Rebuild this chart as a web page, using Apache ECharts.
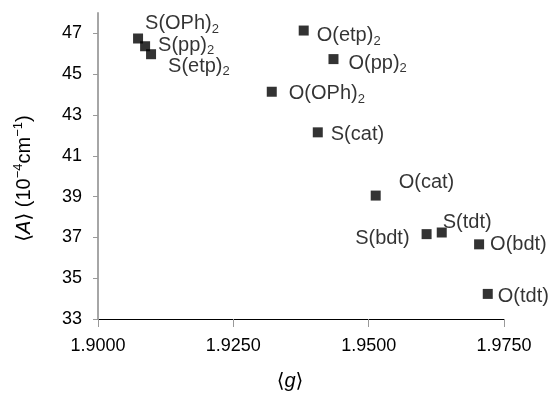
<!DOCTYPE html>
<html>
<head>
<meta charset="utf-8">
<script src="https://cdn.jsdelivr.net/npm/echarts@6/dist/echarts.min.js"></script>
<style>
  html, body { margin: 0; padding: 0; background: #fff; }
  #chart { width: 553px; height: 396px; }
</style>
</head>
<body>
<div id="chart"></div>
<script>
// complexes: name split as main text + subscript
var names = ['S(OPh)', 'S(pp)', 'S(etp)', 'O(etp)', 'O(pp)', 'O(OPh)', 'S(cat)', 'O(cat)', 'S(bdt)', 'S(tdt)', 'O(bdt)', 'O(tdt)']
var subs = ['2', '2', '2', '2', '2', '2', '', '', '', '', '', '']
var gValues = [1.9074, 1.9087, 1.9098, 1.9380, 1.9435, 1.9321, 1.9406, 1.9513, 1.9607, 1.9635, 1.9704, 1.9720]
var aValues = [46.75, 46.37, 45.98, 47.14, 45.74, 44.14, 42.15, 39.05, 37.16, 37.24, 36.66, 34.23]
var yTicks = [33, 35, 37, 39, 41, 43, 45, 47]

// label placement per point: [position, offsetX, offsetY]
var labelPlace = [
  ['right', -6, -15],
  ['right', 0, -1],
  ['right', 4, 12],
  ['right', 0, 5],
  ['right', 2, 4],
  ['right', 4, 2],
  ['right', 0, 2],
  ['right', 10, -13],
  ['left', -4, 4],
  ['right', -12, -10],
  ['right', -2, 0],
  ['right', -3, 3]
]

var font = 'Liberation Sans, Arial, DejaVu Sans, sans-serif'

var data = names.map(function (n, i) {
  var p = labelPlace[i]
  return {
    value: [gValues[i], aValues[i]],
    label: {
      position: p[0],
      offset: [p[1], p[2]],
      formatter: subs[i] ? '{n|' + n + '}{s|' + subs[i] + '}' : '{n|' + n + '}'
    }
  }
})

var chart = echarts.init(document.getElementById('chart'))

var option = {
  backgroundColor: '#fff',
  animation: false,
  grid: { left: 98, right: 49, top: 13, bottom: 74 },
  xAxis: {
    type: 'value',
    min: 1.9,
    max: 1.975,
    interval: 0.025,
    splitLine: { show: false },
    axisLine: { onZero: false, lineStyle: { color: '#000', width: 1 } },
    axisTick: { show: true, length: 8, lineStyle: { color: '#999' } },
    axisLabel: {
      margin: 18,
      color: '#000',
      fontSize: 18,
      fontFamily: font,
      formatter: function (v) { return v.toFixed(4) }
    },
    name: '{t|\u27e8}{i|g}{t|\u27e9}',
    nameLocation: 'middle',
    nameGap: 52,
    nameTextStyle: {
      padding: [0, 22, 0, 0],
      rich: {
        t: { fontSize: 20, fontFamily: font, color: '#000' },
        i: { fontSize: 20, fontFamily: font, fontStyle: 'italic', color: '#000' }
      }
    }
  },
  yAxis: {
    type: 'value',
    min: 33,
    max: 48,
    splitLine: { show: false },
    axisLine: { show: true, onZero: false, lineStyle: { color: '#a6a6a6', width: 2 } },
    axisTick: { show: true, length: 5, customValues: yTicks, lineStyle: { color: '#999' } },
    axisLabel: {
      margin: 16,
      color: '#000',
      fontSize: 18,
      fontFamily: font,
      customValues: yTicks
    },
    name: '{t|\u27e8}{i|A}{t|\u27e9 (10}{sup|\u22124}{t|cm}{sup|\u22121}{t|)}',
    nameLocation: 'middle',
    nameRotate: 90,
    nameGap: 62,
    nameTextStyle: {
      padding: [0, 25, 0, 0],
      rich: {
        t: { fontSize: 20, fontFamily: font, color: '#000', lineHeight: 24 },
        i: { fontSize: 20, fontFamily: font, fontStyle: 'italic', color: '#000', lineHeight: 24 },
        sup: { fontSize: 13, fontFamily: font, color: '#000', lineHeight: 13, verticalAlign: 'top' }
      }
    }
  },
  series: [
    {
      type: 'scatter',
      symbol: 'rect',
      symbolSize: 10,
      itemStyle: { color: '#000' },
      label: {
        show: true,
        distance: 8,
        color: '#000',
        rich: {
          n: { fontSize: 20, fontFamily: font, color: '#000', lineHeight: 24 },
          s: { fontSize: 13, fontFamily: font, color: '#000', lineHeight: 13, verticalAlign: 'bottom' }
        }
      },
      data: data
    }
  ]
}

chart.setOption(option)
</script>
</body>
</html>
